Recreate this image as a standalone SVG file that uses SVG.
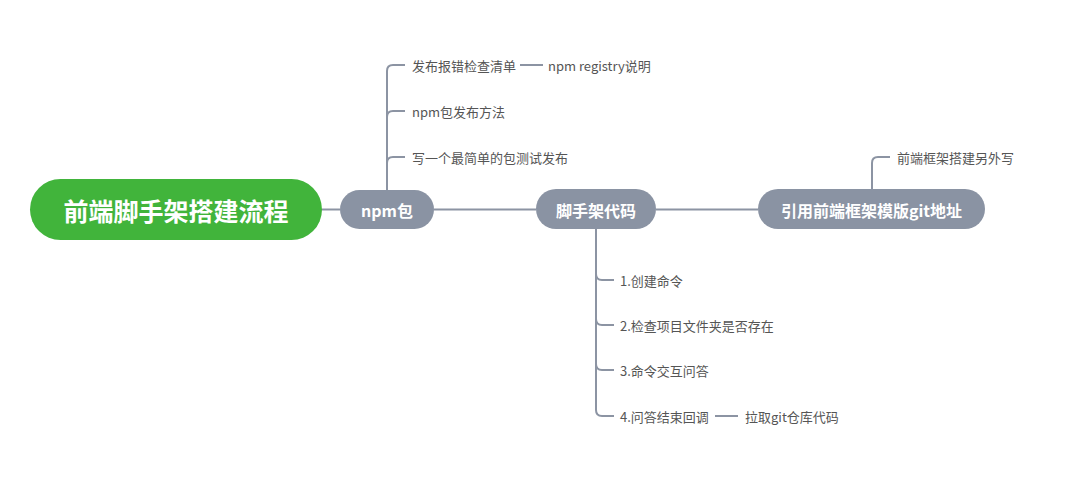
<svg xmlns="http://www.w3.org/2000/svg" width="1080" height="486" viewBox="0 0 1080 486">
<style>
.conn{fill:none;stroke:#8c94a3;stroke-width:2}
.main{fill:#8a93a3}
.mt{fill:#fff;font-family:"Noto Sans CJK SC","Noto Sans",sans-serif;font-weight:bold;font-size:16px;dominant-baseline:central;text-anchor:middle}
.ct{fill:#555;font-family:"Noto Sans CJK SC","Noto Sans",sans-serif;font-size:13px;dominant-baseline:central}
</style>
<rect width="1080" height="486" fill="#fff"/>
<g id="connectors">
<path class="conn" d="M322,209.5 H340"/>
<path class="conn" d="M434,209.5 H536"/>
<path class="conn" d="M656,209.5 H758"/>
<path class="conn" d="M387,190 V71 Q387,65 393,65 H405"/>
<path class="conn" d="M387,190 V117 Q387,111 393,111 H405"/>
<path class="conn" d="M387,190 V163 Q387,157 393,157 H405"/>
<path class="conn" d="M520,65 H543"/>
<path class="conn" d="M596,228 V274 Q596,280 602,280 H614"/>
<path class="conn" d="M596,228 V319 Q596,325 602,325 H614"/>
<path class="conn" d="M596,228 V364 Q596,370 602,370 H614"/>
<path class="conn" d="M596,228 V410 Q596,416 602,416 H614"/>
<path class="conn" d="M715,416 H738"/>
<path class="conn" d="M872,189 V163 Q872,157 878,157 H890"/>
</g>
<g id="root">
<rect x="30" y="179" width="292" height="61" rx="30.5" fill="#41b43b"/>
<text x="176" y="209.5" fill="#fff" font-family="'Noto Sans CJK SC','Noto Sans',sans-serif" font-weight="bold" font-size="25" dominant-baseline="central" text-anchor="middle">前端脚手架搭建流程</text>
</g>
<g id="npm">
<rect class="main" x="340" y="190" width="94" height="39" rx="19.5"/>
<text class="mt" x="387" y="209.5">npm包</text>
</g>
<g id="scaffold">
<rect class="main" x="536" y="189" width="120" height="40" rx="20"/>
<text class="mt" x="596" y="209.5">脚手架代码</text>
</g>
<g id="template">
<rect class="main" x="758" y="189" width="227" height="40" rx="20"/>
<text class="mt" x="871.5" y="209.5">引用前端框架模版git地址</text>
</g>
<g id="c1"><text class="ct" x="412" y="65">发布报错检查清单</text></g>
<g id="c1a"><text class="ct" x="548" y="65">npm registry说明</text></g>
<g id="c2"><text class="ct" x="412" y="111">npm包发布方法</text></g>
<g id="c3"><text class="ct" x="412" y="157">写一个最简单的包测试发布</text></g>
<g id="s1"><text class="ct" x="620" y="280">1.创建命令</text></g>
<g id="s2"><text class="ct" x="620" y="325">2.检查项目文件夹是否存在</text></g>
<g id="s3"><text class="ct" x="620" y="370">3.命令交互问答</text></g>
<g id="s4"><text class="ct" x="620" y="416">4.问答结束回调</text></g>
<g id="s4a"><text class="ct" x="745" y="416">拉取git仓库代码</text></g>
<g id="t1"><text class="ct" x="897" y="157">前端框架搭建另外写</text></g>
</svg>
